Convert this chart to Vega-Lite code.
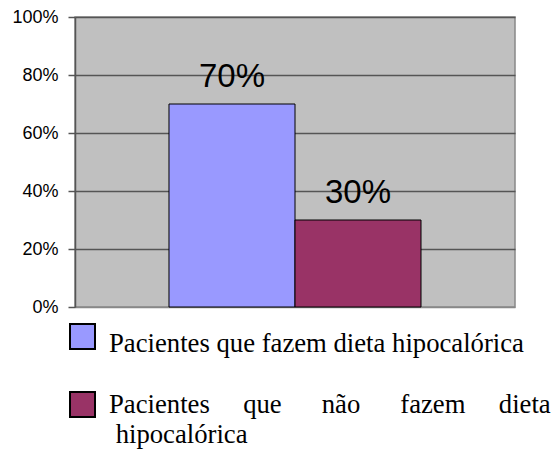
{
  "$schema": "https://vega.github.io/schema/vega-lite/v6.json",
  "width": 440,
  "height": 290,
  "autosize": "none",
  "padding": {"left": 75, "top": 17, "right": 41, "bottom": 142},
  "background": "white",
  "config": {
    "view": {"fill": "#C0C0C0", "stroke": "#888888", "strokeWidth": 1.5},
    "font": "Liberation Sans"
  },
  "data": {
    "values": [
      {"grupo": "Pacientes que fazem dieta hipocalórica", "valor": 0.7, "rotulo": "70%"},
      {"grupo": "Pacientes que não fazem dieta hipocalórica", "valor": 0.3, "rotulo": "30%"}
    ]
  },
  "encoding": {
    "x": {
      "field": "grupo",
      "type": "nominal",
      "sort": null,
      "axis": null,
      "scale": {"paddingInner": 0, "paddingOuter": 0.746}
    },
    "y": {
      "field": "valor",
      "type": "quantitative",
      "scale": {"domain": [0, 1], "nice": false},
      "axis": {
        "title": null,
        "format": ".0%",
        "values": [0, 0.2, 0.4, 0.6, 0.8, 1],
        "labelFont": "Liberation Sans",
        "labelFontSize": 18,
        "labelColor": "black",
        "labelPadding": 10,
        "tickSize": 7,
        "tickColor": "#555555",
        "tickWidth": 1.5,
        "domainColor": "#555555",
        "domainWidth": 1.5,
        "gridColor": {"condition": {"test": "datum.value === 0", "value": "#888888"}, "value": "#555555"},
        "gridWidth": 1.5,
        "gridOpacity": 1
      }
    }
  },
  "layer": [
    {
      "mark": {"type": "bar", "stroke": "black", "strokeWidth": 1},
      "encoding": {
        "color": {
          "field": "grupo",
          "type": "nominal",
          "sort": null,
          "scale": {"range": ["#9999FF", "#993366"]},
          "legend": {
            "title": null,
            "orient": "none",
            "legendX": -6,
            "legendY": 306,
            "direction": "vertical",
            "padding": 0,
            "symbolType": "square",
            "symbolSize": 625,
            "symbolStrokeWidth": 2,
            "symbolStrokeColor": "black",
            "symbolOpacity": 1,
            "labelFont": "Liberation Serif",
            "labelFontSize": 26.7,
            "labelColor": "black",
            "labelOffset": 13,
            "labelLimit": 600,
            "labelBaseline": "middle",
            "rowPadding": 30,
            "labelExpr": "datum.value == 'Pacientes que fazem dieta hipocalórica' ? ['', datum.value] : ['Pacientes\u00a0\u00a0\u00a0\u00a0\u00a0que\u00a0\u00a0\u00a0\u00a0\u00a0\u00a0não\u00a0\u00a0\u00a0\u00a0\u00a0\u00a0fazem\u00a0\u00a0\u00a0\u00a0\u00a0dieta', '\u200b\u00a0hipocalórica']",
            "encode": {
              "symbols": {
                "update": {
                  "fill": {"signal": "datum.value == 'Pacientes que fazem dieta hipocalórica' ? '#9966FF' : '#993366'"},
                  "stroke": {"value": "black"},
                  "strokeWidth": {"value": 2}
                }
              },
              "labels": {
                "update": {
                  "lineHeight": {"signal": "datum.value == 'Pacientes que fazem dieta hipocalórica' ? 7.5 : 30"}
                }
              }
            }
          }
        }
      }
    },
    {
      "mark": {
        "type": "text",
        "fontSize": 33,
        "font": "Liberation Sans",
        "color": "black",
        "baseline": "alphabetic",
        "dy": -17
      },
      "encoding": {"text": {"field": "rotulo"}}
    }
  ]
}
